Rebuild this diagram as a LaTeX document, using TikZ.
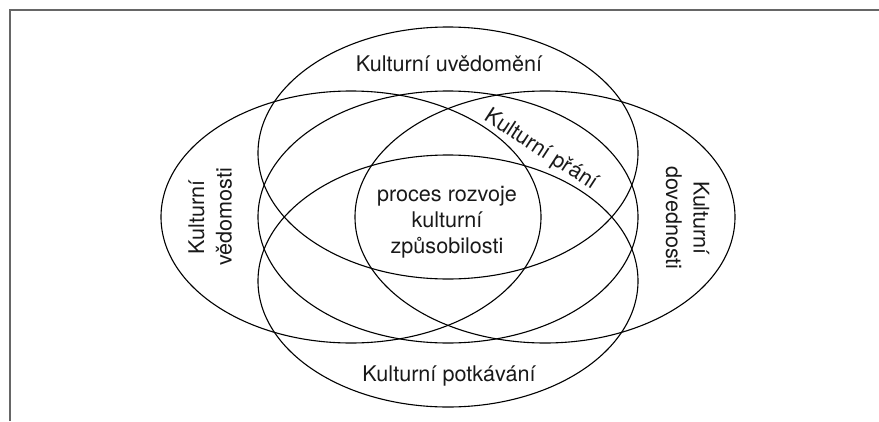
\documentclass[tikz,border=0pt]{standalone}
\usepackage{fontspec}
\setmainfont{TeX Gyre Heros}
\begin{document}
\begin{tikzpicture}[x=1pt,y=-1pt,
  ring/.style={draw=black, line width=1.1pt},
  lbl/.style={inner sep=0pt, anchor=base, text=black!90, font=\fontsize{21.6pt}{26pt}\selectfont},
  frame/.style={draw=black!60, line width=1.4pt}]
\useasboundingbox (0,0) rectangle (879,421);
% frame
\coordinate (fb) at (10,421);
\coordinate (fc) at (10,10);
\coordinate (fr) at (879,10);
\draw[frame] (fb) -- (fc) -- (fr);
% ellipse centres
\coordinate (cL) at (351,217);
\coordinate (cM) at (448,217);
\coordinate (cR) at (545,217);
\coordinate (cT) at (448,153);
\coordinate (cB) at (448,281);
\draw[ring] (cL) ellipse [x radius=190pt, y radius=126pt];
\draw[ring] (cM) ellipse [x radius=190pt, y radius=126pt];
\draw[ring] (cR) ellipse [x radius=190pt, y radius=126pt];
\draw[ring] (cT) ellipse [x radius=190pt, y radius=126pt];
\draw[ring] (cB) ellipse [x radius=190pt, y radius=126pt];
% labels
\node[lbl] (uved) at (449,71) {Kulturní uvědomění};
\node[lbl] (potk) at (449,381) {Kulturní potkávání};
\node[lbl, rotate=90] (ved1) at (204,217) {Kulturní};
\node[lbl, rotate=90] (ved2) at (231.5,217) {vědomosti};
\node[lbl, rotate=-90] (dov1) at (693.5,218) {Kulturní};
\node[lbl, rotate=-90] (dov2) at (666,218) {dovednosti};
\node[lbl, rotate=-33] (pran) at (538,155) {Kulturní přání};
\node[lbl] (proc1) at (447,201) {proces rozvoje};
\node[lbl] (proc2) at (447,227) {kulturní};
\node[lbl] (proc3) at (447,253) {způsobilosti};
\end{tikzpicture}
\end{document}
